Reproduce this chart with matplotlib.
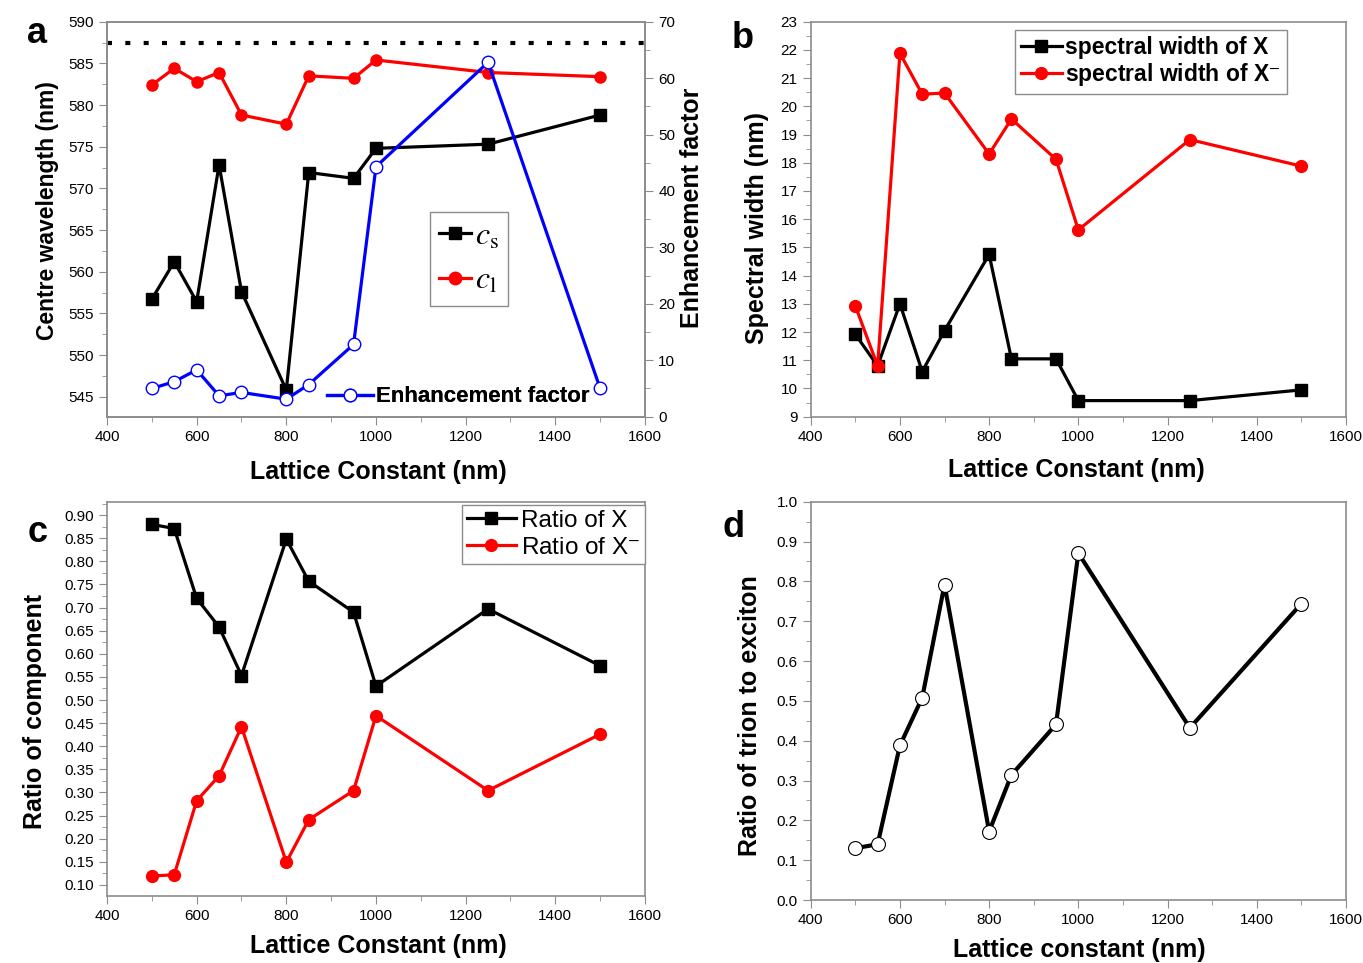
import numpy as np
import matplotlib.pyplot as plt
from matplotlib.ticker import MultipleLocator, FormatStrFormatter
from matplotlib.lines import Line2D

plt.rcParams['font.family'] = ['Liberation Sans', 'DejaVu Sans']
plt.rcParams['mathtext.fontset'] = 'stix'

# Lattice constants (nm), shared by all panels
lattice = [500, 550, 600, 650, 700, 800, 850, 950, 1000, 1250, 1500]

# Panel a
centre_s = [556.7, 561.2, 556.4, 572.8, 557.6, 545.8, 571.9, 571.2, 574.8, 575.3, 578.8]
centre_l = [582.4, 584.4, 582.8, 583.9, 578.8, 577.7, 583.5, 583.2, 585.4, 583.9, 583.4]
enhancement = [5.0, 6.2, 8.3, 3.7, 4.3, 3.1, 5.7, 12.8, 44.3, 62.8, 5.0]
ref_level = 587.4

# Panel b
width_x = [11.92, 10.8, 13.0, 10.6, 12.05, 14.75, 11.05, 11.05, 9.57, 9.57, 9.95]
width_trion = [12.93, 10.8, 21.88, 20.43, 20.47, 18.31, 19.55, 18.12, 15.62, 18.82, 17.88]

# Panel c
ratio_x = [0.880, 0.871, 0.720, 0.658, 0.553, 0.848, 0.757, 0.690, 0.530, 0.697, 0.574]
ratio_trion = [0.119, 0.122, 0.282, 0.336, 0.442, 0.149, 0.241, 0.304, 0.466, 0.304, 0.426]

# Panel d
trion_exciton = [0.130, 0.140, 0.388, 0.508, 0.792, 0.172, 0.314, 0.441, 0.871, 0.432, 0.744]

spine_col = '#8c8c8c'
tick_fs = 11
label_fs = 18

fig = plt.figure(figsize=(13.63, 9.63), dpi=100)

ax_a = fig.add_axes([0.0785, 0.5673, 0.3947, 0.4102])
ax_b = fig.add_axes([0.5948, 0.5673, 0.3927, 0.4102])
ax_c = fig.add_axes([0.0785, 0.0696, 0.3947, 0.4094])
ax_d = fig.add_axes([0.5948, 0.0654, 0.3927, 0.4136])


def style_axes(ax, ymaj, ymin, yfmt):
    ax.set_xlim(400, 1600)
    ax.xaxis.set_major_locator(MultipleLocator(200))
    ax.xaxis.set_minor_locator(MultipleLocator(100))
    ax.yaxis.set_major_locator(MultipleLocator(ymaj))
    ax.yaxis.set_minor_locator(MultipleLocator(ymin))
    ax.yaxis.set_major_formatter(FormatStrFormatter(yfmt))
    for s in ax.spines.values():
        s.set_color(spine_col)
        s.set_linewidth(1.2)
    ax.tick_params(which='both', direction='out', color=spine_col, labelsize=tick_fs,
                   top=False, right=False)
    ax.tick_params(which='major', length=6)
    ax.tick_params(which='minor', length=3.5)


def put_labels(ax, xlab, ylab, xpos, ypos, yfs=label_fs):
    ax.set_xlabel(xlab, fontsize=label_fs, fontweight='bold')
    ax.set_ylabel(ylab, fontsize=yfs, fontweight='bold')
    ax.xaxis.set_label_coords(*xpos)
    ax.yaxis.set_label_coords(*ypos)
    ax.xaxis.label.set_va('center')
    ax.yaxis.label.set_va('center')


# ---- a ----
style_axes(ax_a, 5, 2.5, '%d')
ax_a.set_ylim(542.6, 590)
ax_a.axhline(ref_level, color='black', lw=3, linestyle=(0, (1.2, 3.2)))
ax_a.plot(lattice, centre_s, color='black', lw=2.3, marker='s', ms=8, zorder=3)
ax_a.plot(lattice, centre_l, color='red', lw=2.3, marker='o', ms=8, zorder=3)
put_labels(ax_a, 'Lattice Constant (nm)', 'Centre wavelength (nm)',
           (0.504, -0.140), (-0.110, 0.523), yfs=16.5)

ax_a2 = ax_a.twinx()
ax_a2.set_ylim(0, 70)
ax_a2.yaxis.set_major_locator(MultipleLocator(10))
ax_a2.yaxis.set_minor_locator(MultipleLocator(5))
for s in ax_a2.spines.values():
    s.set_color(spine_col)
    s.set_linewidth(1.2)
ax_a2.tick_params(which='both', direction='out', color=spine_col, labelsize=tick_fs)
ax_a2.tick_params(which='major', length=6)
ax_a2.tick_params(which='minor', length=3.5)
ax_a2.plot(lattice, enhancement, color='blue', lw=2.3, marker='o', ms=9,
           mfc='white', mec='blue', mew=1, zorder=3)
ax_a2.set_ylabel('Enhancement factor', fontsize=label_fs, fontweight='bold')
ax_a2.yaxis.set_label_coords(1.087, 0.528)
ax_a2.yaxis.label.set_va('center')

leg_a = ax_a2.legend([Line2D([], [], color='black', lw=2.3, marker='s', ms=8),
                      Line2D([], [], color='red', lw=2.3, marker='o', ms=9)],
                     [r'$c_{\mathrm{s}}$', r'$c_{\mathrm{l}}$'],
                     loc='upper left', bbox_to_anchor=(0.600, 0.518), fontsize=23,
                     handlelength=1.0, handletextpad=0.1, labelspacing=0.45,
                     borderpad=0.3, borderaxespad=0, fancybox=False, framealpha=1)
leg_a.get_frame().set_edgecolor(spine_col)

leg_e = ax_a.legend([Line2D([], [], color='blue', lw=2.3, marker='o', ms=9,
                            mfc='white', mec='blue', mew=1)],
                    ['Enhancement factor'], loc='center left',
                    bbox_to_anchor=(0.392, 0.05), frameon=False,
                    prop={'weight': 'bold', 'size': 16},
                    handlelength=2.1, handletextpad=0.1, borderaxespad=0)
ax_a.add_artist(leg_e)

# ---- b ----
style_axes(ax_b, 1, 0.5, '%d')
ax_b.set_ylim(9, 23)
ax_b.plot(lattice, width_x, color='black', lw=2.3, marker='s', ms=8.5, label='spectral width of X')
ax_b.plot(lattice, width_trion, color='red', lw=2.3, marker='o', ms=8.5,
          label=r'spectral width of X$^{-}$')
put_labels(ax_b, 'Lattice Constant (nm)', 'Spectral width (nm)',
           (0.496, -0.134), (-0.100, 0.478))
leg_b = ax_b.legend(loc='upper left', bbox_to_anchor=(0.3817, 0.979),
                    prop={'weight': 'bold', 'size': 16.5},
                    handlelength=1.8, handletextpad=0.15, labelspacing=0.1,
                    borderpad=0.25, borderaxespad=0, fancybox=False, framealpha=1)
leg_b.get_frame().set_edgecolor(spine_col)

# ---- c ----
style_axes(ax_c, 0.05, 0.025, '%.2f')
ax_c.set_ylim(0.076, 0.929)
ax_c.plot(lattice, ratio_x, color='black', lw=2.3, marker='s', ms=9, label='Ratio of X')
ax_c.plot(lattice, ratio_trion, color='red', lw=2.3, marker='o', ms=8.5,
          label=r'Ratio of X$^{-}$')
put_labels(ax_c, 'Lattice Constant (nm)', 'Ratio of component',
           (0.504, -0.127), (-0.134, 0.467))
leg_c = ax_c.legend(loc='upper right', bbox_to_anchor=(1.0, 0.9916),
                    prop={'size': 17.5},
                    handlelength=2.0, handletextpad=0.2, labelspacing=0.2,
                    borderpad=0.2, borderaxespad=0, fancybox=False, framealpha=1)
leg_c.get_frame().set_edgecolor(spine_col)

# ---- d ----
style_axes(ax_d, 0.1, 0.05, '%.1f')
ax_d.set_ylim(0, 1.0)
ax_d.plot(lattice, trion_exciton, color='black', lw=3, marker='o', ms=10,
          mfc='white', mec='black', mew=0.8)
put_labels(ax_d, 'Lattice constant (nm)', 'Ratio of trion to exciton',
           (0.501, -0.1255), (-0.113, 0.462))

# panel letters
for lab, x, y in [('a', 0.020, 0.965), ('b', 0.537, 0.960), ('c', 0.020, 0.447), ('d', 0.530, 0.452)]:
    fig.text(x, y, lab, fontsize=26, fontweight='bold', va='center')

fig.savefig('out.png', dpi=100)
